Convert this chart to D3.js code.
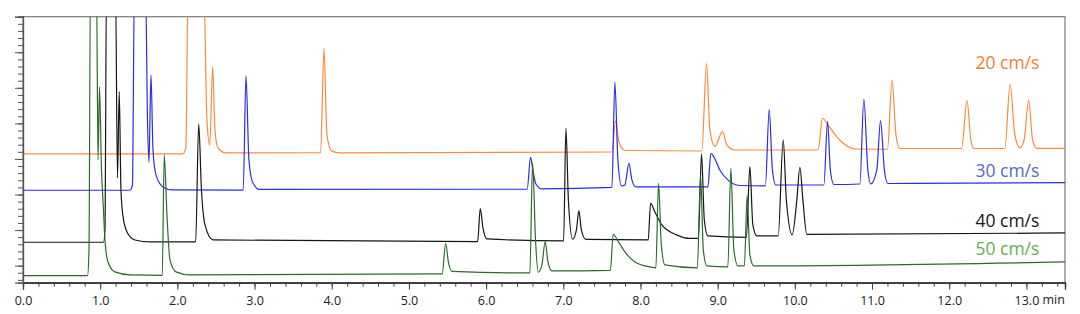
<!DOCTYPE html>
<meta charset="utf-8">
<script src="https://d3js.org/d3.v7.min.js"></script>
<style>
  body { margin: 0; background: #fff; }
  text { font-family: "Open Sans", sans-serif; }
</style>
<div id="chart"></div>
<script>
// traces: [time (min), signal (a.u.)]
var trace20 = [[0,15.70],[2.07,15.70],[2.11,16.55],[2.14,40],[2.34,40],[2.383,20.48],[2.42,16.97],[2.457,27.97],[2.487,19.08],[2.526,16.55],[2.63,15.84],
  [3.856,15.90],[3.899,30.56],[3.938,18.37],[3.999,16.13],[4.106,15.84],
  [7.63,15.98],[7.677,20.34],[7.72,17.39],[7.80,16.19],
  [8.795,16.12],[8.856,28.45],[8.899,19.08],[8.964,16.76],[9.063,18.84],[9.119,16.97],[9.22,16.26],
  [10.30,16.26],[10.359,20.72],[10.428,19.78],[10.58,17.67],[10.79,16.40],
  [11.20,16.36],[11.26,26.10],[11.31,18.37],[11.36,16.47],
  [12.16,16.47],[12.23,23.19],[12.28,17.67],[12.32,16.47],
  [12.72,16.47],[12.789,25.54],[12.85,18.37],[12.915,16.55],[12.97,17.67],[13.03,23.29],[13.08,17.67],[13.135,16.50],[13.5,16.50]];

var trace30 = [[0,10.60],[1.386,10.60],[1.418,11.34],[1.444,40],[1.587,40],[1.613,20.48],[1.632,14.53],[1.658,26.81],[1.684,16.26],[1.723,12.75],[1.813,11.06],[1.93,10.64],
  [2.853,10.61],[2.889,26.67],[2.927,14.86],[2.979,11.62],[3.07,10.71],
  [6.532,10.74],[6.576,15.24],[6.606,13.45],[6.645,11.48],[6.723,10.78],
  [7.63,10.99],[7.668,25.78],[7.707,14.86],[7.755,11.20],[7.798,11.34],[7.85,14.39],[7.889,12.05],[7.94,11.06],
  [8.873,11.06],[8.912,15.80],[8.951,15.28],[9.028,13.45],[9.132,12.05],[9.288,11.27],
  [9.618,11.20],[9.668,21.98],[9.709,13.45],[9.754,11.34],
  [10.376,11.34],[10.424,20.24],[10.46,13.45],[10.505,11.41],
  [10.842,11.48],[10.894,23.43],[10.946,13.45],[10.984,11.48],[11.062,13.45],[11.11,20.38],[11.16,13.45],[11.205,11.55],[13.5,11.67]];

var trace40 = [[0,3.29],[1.043,3.29],[1.062,5.02],[1.082,40],[1.198,40],[1.224,12.33],[1.247,24.46],[1.269,10.64],[1.295,6.99],[1.347,4.74],[1.451,3.61],[1.645,3.33],
  [2.237,3.33],[2.276,19.92],[2.312,10.64],[2.358,5.72],[2.461,3.61],
  [5.89,3.37],[5.924,8.01],[5.959,5.30],[6.01,3.75],
  [7.004,3.47],[7.034,19.31],[7.066,9.24],[7.121,3.71],[7.17,5.02],[7.202,7.73],[7.234,5.02],[7.293,3.68],
  [8.10,3.61],[8.131,8.77],[8.187,7.55],[8.277,5.72],[8.467,4.32],[8.64,3.82],
  [8.75,3.82],[8.791,15.70],[8.827,6.42],[8.873,4.17],
  [9.372,3.96],[9.417,13.92],[9.456,5.72],[9.508,4.17],
  [9.784,4.17],[9.849,17.67],[9.89,9.24],[9.965,4.32],[10.026,9.24],[10.065,13.83],[10.104,9.24],[10.155,4.39],[13.5,4.60]];

var trace50 = [[0,-1.41],[0.836,-1.41],[0.855,2.21],[0.874,40],[0.952,40],[0.972,14.86],[0.991,25.12],[1.017,13.45],[1.036,9.24],[1.062,3.61],[1.101,0.52],[1.192,-0.88],[1.386,-1.31],
  [1.804,-1.38],[1.83,15.56],[1.865,7.13],[1.904,0.80],[1.982,-0.88],[2.163,-1.31],
  [5.431,-1.17],[5.475,3.15],[5.511,0.52],[5.557,-0.82],
  [6.567,-1.03],[6.602,14.48],[6.64,3.61],[6.675,-0.93],[6.723,0.10],[6.766,3.37],[6.801,0.52],[6.853,-0.75],
  [7.61,-0.67],[7.646,4.41],[7.707,3.47],[7.798,1.93],[7.927,0.52],[8.122,-0.18],
  [8.199,-0.32],[8.234,11.58],[8.27,2.91],[8.316,0.10],
  [8.737,-0.32],[8.778,12.75],[8.814,2.21],[8.86,-0.04],
  [9.132,-0.18],[9.171,13.69],[9.21,2.21],[9.262,-0.04],
  [9.346,-0.04],[9.382,9.84],[9.417,1.50],[9.469,-0.04],[13.5,0.52]];

var seriesNames = ["20 cm/s", "30 cm/s", "40 cm/s", "50 cm/s"];
var seriesData = [trace20, trace30, trace40, trace50];
var lineColors = ["#fb8a3c", "#2a2af0", "#151515", "#2c6a2c"];
var labelColors = ["#f27b35", "#5467d0", "#151515", "#6aac4e"];
var labelLevels = [27.7, 12.4, 5.4, 1.5];

var majorTicksX = d3.range(0, 13.01, 1);
var minorTicksX = d3.range(0, 13.45, 0.2);
var majorTicksY = d3.range(0, 36, 5);
var minorTicksY = d3.range(-2, 36, 1);

var margin = {top: 16.7, right: 15, bottom: 31.3, left: 23},
    width = 1080 - margin.left - margin.right,
    height = 314 - margin.top - margin.bottom;

var svg = d3.select("#chart")
  .append("svg")
    .attr("width", 1080)
    .attr("height", 314)
  .append("g")
    .attr("transform", "translate(" + margin.left + "," + margin.top + ")");

var x = d3.scaleLinear().domain([0, 13.5]).range([0, width]);
var y = d3.scaleLinear().domain([-2.4, 35]).range([height, 0]);

svg.append("clipPath").attr("id", "clip")
  .append("rect").attr("width", width).attr("height", height);

// frame
svg.append("rect")
  .attr("width", width).attr("height", height)
  .attr("fill", "none").attr("stroke", "#7a7a7a").attr("stroke-width", 1.2);

// traces
var line = d3.line()
  .x(function(d) { return x(d[0]); })
  .y(function(d) { return y(d[1]); })
  .curve(d3.curveMonotoneX);

svg.append("g").attr("clip-path", "url(#clip)")
  .selectAll("path")
  .data(seriesData)
  .enter()
  .append("path")
    .attr("d", line)
    .attr("fill", "none")
    .attr("stroke", function(d, i) { return lineColors[i]; })
    .attr("stroke-width", 1.2)
    .attr("stroke-linejoin", "round");

// x axis
var xMinor = svg.append("g")
  .attr("transform", "translate(0," + height + ")")
  .call(d3.axisBottom(x).tickValues(minorTicksX).tickSize(4).tickFormat(""));
var xMajor = svg.append("g")
  .attr("transform", "translate(0," + height + ")")
  .call(d3.axisBottom(x).tickValues(majorTicksX).tickSize(7).tickPadding(6).tickFormat(d3.format(".1f")));
xMajor.selectAll("text").style("font-size", "12.5px").attr("fill", "#222");
[xMinor, xMajor].forEach(function(g) {
  g.select(".domain").attr("stroke", "#333").attr("stroke-width", 1.3);
  g.selectAll(".tick line").attr("stroke", "#444");
});
svg.append("text")
  .attr("x", x(13) + 16).attr("y", height + 21.6)
  .style("font-size", "12.5px").attr("fill", "#222")
  .text("min");

// y axis (no labels)
var yMinor = svg.append("g").call(d3.axisLeft(y).tickValues(minorTicksY).tickSize(5).tickFormat(""));
var yMajor = svg.append("g").call(d3.axisLeft(y).tickValues(majorTicksY).tickSize(8).tickFormat(""));
[yMinor, yMajor].forEach(function(g) {
  g.select(".domain").attr("stroke", "#555").attr("stroke-width", 1.2);
  g.selectAll(".tick line").attr("stroke", "#555");
});

// series labels
svg.selectAll(".lab")
  .data(seriesNames)
  .enter()
  .append("text")
    .attr("x", x(12.34))
    .attr("y", function(d, i) { return y(labelLevels[i]); })
    .attr("fill", function(d, i) { return labelColors[i]; })
    .style("font-size", "17.5px")
    .text(function(d) { return d; });
</script>
